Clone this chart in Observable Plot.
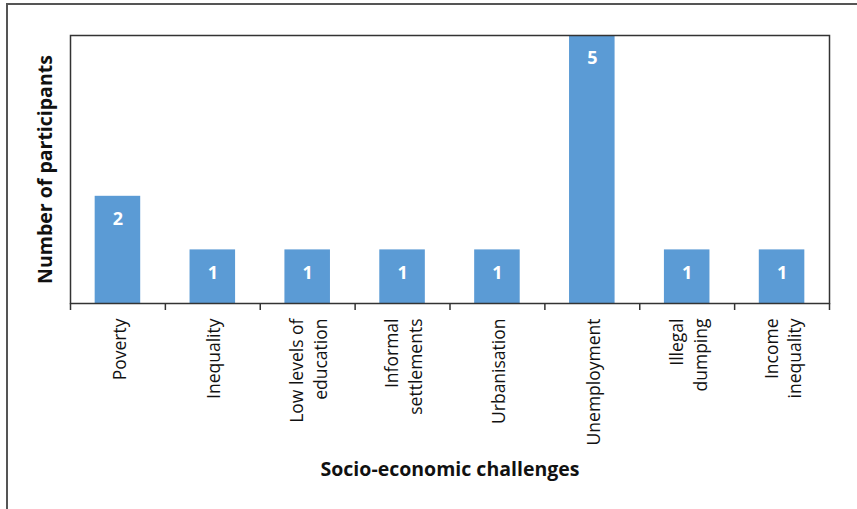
<!DOCTYPE html>
<html>
<head>
<meta charset="utf-8">
<script src="https://cdn.jsdelivr.net/npm/d3@7"></script>
<script src="https://cdn.jsdelivr.net/npm/@observablehq/plot@0.6"></script>
<style>
  html, body { margin: 0; padding: 0; background: #fff; }
  #wrap { position: relative; width: 857px; height: 509px; overflow: hidden; }
  #outer { position: absolute; left: 6px; top: 3px; right: -5px; bottom: -5px;
           border-left: 2px solid #555; border-top: 2px solid #555; pointer-events: none; }
</style>
</head>
<body>
<div id="wrap"><div id="outer"></div></div>
<script>
const categories = ["Poverty", "Inequality", "Low levels of\neducation", "Informal\nsettlements",
  "Urbanisation", "Unemployment", "Illegal\ndumping", "Income\ninequality"];
const participants = [2, 1, 1, 1, 1, 5, 1, 1];
const xTitle = "Socio-economic challenges";
const yTitle = "Number of participants";

const data = categories.map((c, i) => ({category: c, index: i, value: participants[i]}));
const boundaries = d3.range(0, categories.length + 1);
const font = "'Open Sans', 'DejaVu Sans', sans-serif";

const chart = Plot.plot({
  width: 857,
  height: 509,
  marginLeft: 70,
  marginRight: 28,
  marginTop: 35,
  marginBottom: 206,
  style: {fontFamily: font, background: "transparent", overflow: "visible"},
  x: {domain: [0, categories.length]},
  y: {domain: [0, 5], axis: null},
  marks: [
    Plot.rectY(data, {x1: d => d.index + 0.26, x2: d => d.index + 0.74, y: "value", fill: "#5b9bd5"}),
    Plot.text(data, {x: d => d.index + 0.5, y: "value", text: d => String(d.value), dy: 23,
      fill: "white", fontWeight: "bold", fontSize: 18, fontFamily: font}),
    Plot.frame({stroke: "#333", strokeWidth: 1.5}),
    Plot.axisX({ticks: boundaries, tickFormat: () => "", tickSize: 7, stroke: "#333",
      strokeWidth: 1.5, label: null}),
    Plot.text(data, {x: d => d.index + 0.5, y: 0, text: "category", rotate: -90, textAnchor: "end",
      lineAnchor: "middle", lineHeight: 1.35, dy: 15, fontSize: 17.5, fill: "#111", fontFamily: font}),
    Plot.text([xTitle], {frameAnchor: "bottom", text: d => d, dy: 172, textAnchor: "middle",
      fontWeight: "bold", fontSize: 19.5, fill: "#111", fontFamily: font}),
    Plot.text([yTitle], {frameAnchor: "left", text: d => d, dx: -25, rotate: -90, textAnchor: "middle",
      lineAnchor: "middle", fontWeight: "bold", fontSize: 19.5, fill: "#111", fontFamily: font})
  ]
});
document.getElementById("wrap").prepend(chart);
</script>
</body>
</html>
